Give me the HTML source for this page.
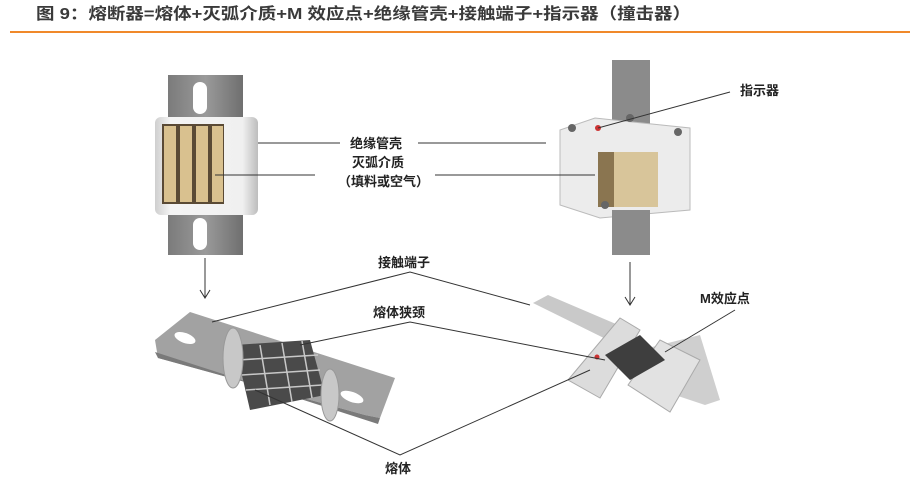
<!DOCTYPE html>
<html><head><meta charset="utf-8"><style>
body{margin:0;background:#fff;width:910px;height:483px;overflow:hidden}
svg{display:block}
text{font-family:"Liberation Sans","Noto Sans CJK SC",sans-serif}
</style></head><body>
<svg width="910" height="483" viewBox="0 0 910 483" xmlns="http://www.w3.org/2000/svg">
<defs>
<linearGradient id="gp" x1="0" x2="1"><stop offset="0" stop-color="#7b7b7b"/><stop offset=".5" stop-color="#9a9a9a"/><stop offset="1" stop-color="#6f6f6f"/></linearGradient>
<linearGradient id="sh" x1="0" x2="1"><stop offset="0" stop-color="#cfcfcf"/><stop offset=".15" stop-color="#f4f4f4"/><stop offset=".85" stop-color="#f0f0f0"/><stop offset="1" stop-color="#bdbdbd"/></linearGradient>
</defs>
<text x="36" y="19" font-size="16" font-weight="bold" fill="#3a3a3a" textLength="655" lengthAdjust="spacingAndGlyphs">图 9：熔断器=熔体+灭弧介质+M 效应点+绝缘管壳+接触端子+指示器（撞击器）</text>
<rect x="10" y="31" width="900" height="2" fill="#f0892a"/>

<!-- top-left fuse -->
<rect x="168" y="75" width="75" height="180" fill="url(#gp)"/>
<rect x="193" y="82" width="14" height="32" rx="7" fill="#fff"/>
<rect x="193" y="218" width="14" height="32" rx="7" fill="#fff"/>
<rect x="155" y="117" width="103" height="98" rx="6" fill="url(#sh)"/>
<rect x="162" y="124" width="62" height="80" fill="#5a4a35"/>
<g fill="#d9c18f"><rect x="164" y="126" width="12" height="76"/><rect x="180" y="126" width="12" height="76"/><rect x="196" y="126" width="12" height="76"/><rect x="212" y="126" width="11" height="76"/></g>

<!-- top-right fuse -->
<rect x="612" y="60" width="38" height="195" fill="#8b8b8b"/>
<polygon points="560,130 595,118 690,128 690,210 600,218 560,205" fill="#ececec" stroke="#bbb"/>
<rect x="598" y="152" width="60" height="55" fill="#d8c59a"/>
<rect x="598" y="152" width="16" height="55" fill="#8a7550"/>
<rect x="612" y="210" width="38" height="45" fill="#8b8b8b"/>
<circle cx="598" cy="128" r="3" fill="#c33"/>
<g fill="#666"><circle cx="572" cy="128" r="4"/><circle cx="630" cy="118" r="4"/><circle cx="678" cy="132" r="4"/><circle cx="605" cy="205" r="4"/></g>

<!-- bottom-left fuse -->
<polygon points="155,340 190,312 395,378 380,418 365,415 158,358" fill="#a2a2a2"/>
<polygon points="158,358 365,415 380,418 378,424 155,352" fill="#7a7a7a"/>
<ellipse cx="185" cy="338" rx="11" ry="5" fill="#fff" transform="rotate(20 185 338)"/>
<ellipse cx="352" cy="397" rx="12" ry="5" fill="#fff" transform="rotate(20 352 397)"/>
<polygon points="235,345 310,340 325,395 250,410" fill="#4a4a4a"/>
<g stroke="#c8c8c8" stroke-width="1.5"><line x1="238" y1="360" x2="318" y2="355"/><line x1="242" y1="375" x2="320" y2="370"/><line x1="246" y1="390" x2="322" y2="385"/><line x1="260" y1="345" x2="270" y2="405"/><line x1="282" y1="343" x2="292" y2="402"/><line x1="302" y1="341" x2="312" y2="398"/></g>
<ellipse cx="233" cy="358" rx="10" ry="30" fill="#c8c8c8" stroke="#999"/>
<ellipse cx="330" cy="395" rx="9" ry="26" fill="#c8c8c8" stroke="#999"/>

<!-- bottom-right fuse -->
<polygon points="533,303 548,295 630,330 618,345" fill="#c9c9c9"/>
<polygon points="640,350 700,335 720,400 705,405 660,390" fill="#cfcfcf"/>
<polygon points="568,380 620,318 640,330 600,398" fill="#dcdcdc" stroke="#aaa"/>
<polygon points="628,385 660,340 700,360 670,412" fill="#e2e2e2" stroke="#aaa"/>
<polygon points="605,355 640,335 665,360 630,380" fill="#3e3e3e"/>
<circle cx="597" cy="357" r="2.5" fill="#c33"/>

<!-- connector lines -->
<g stroke="#333" stroke-width="1" fill="none">
<line x1="258" y1="143" x2="340" y2="143"/><line x1="418" y1="143" x2="546" y2="143"/>
<line x1="215" y1="175" x2="315" y2="175"/><line x1="435" y1="175" x2="595" y2="175"/>
<line x1="730" y1="92" x2="598" y2="128"/>
<line x1="205" y1="258" x2="205" y2="298"/><polyline points="200,290 205,298 210,290"/>
<line x1="630" y1="262" x2="630" y2="305"/><polyline points="625,297 630,305 635,297"/>
<polyline points="212,322 410,272 530,305"/>
<polyline points="300,345 410,322 605,360"/>
<line x1="735" y1="310" x2="665" y2="352"/>
<polyline points="255,390 400,455 590,370"/>
</g>
<g font-size="13" font-weight="bold" fill="#222">
<text x="350" y="148">绝缘管壳</text>
<text x="352" y="167">灭弧介质</text>
<text x="338" y="186">（填料或空气）</text>
<text x="740" y="95">指示器</text>
<text x="378" y="267">接触端子</text>
<text x="373" y="317">熔体狭颈</text>
<text x="700" y="303">M效应点</text>
<text x="385" y="473">熔体</text>
</g>
</svg>
</body></html>
